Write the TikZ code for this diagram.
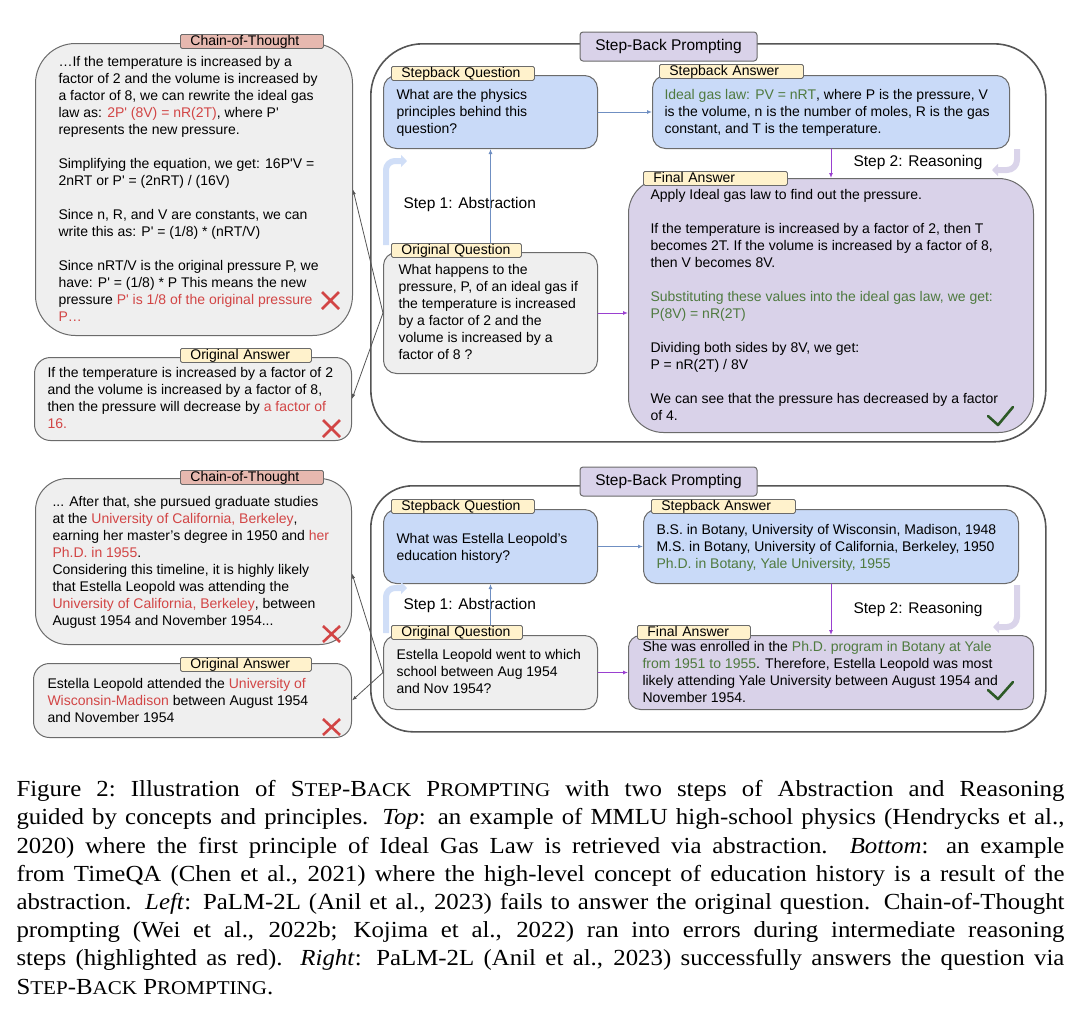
\documentclass[tikz,border=0pt]{standalone}
\usepackage{fontspec}
\setmainfont{Liberation Sans}
\newfontfamily\capfont[FakeStretch=1.08]{Liberation Serif}
\usetikzlibrary{arrows.meta,calc}
\definecolor{boxline}{HTML}{6B6B6B}
\definecolor{panelline}{HTML}{555555}
\definecolor{boxgray}{HTML}{EFEFEF}
\definecolor{boxblue}{HTML}{C9DAF8}
\definecolor{lav}{HTML}{D9D2E9}
\definecolor{tagyellow}{HTML}{FFF2CC}
\definecolor{tagpink}{HTML}{E6B8AF}
\definecolor{errred}{HTML}{D24545}
\definecolor{okgreen}{HTML}{4F7A3F}
\definecolor{checkgreen}{HTML}{2D5A27}
\definecolor{bluearrow}{HTML}{6F8FC2}
\definecolor{purplearrow}{HTML}{9A40D0}
\definecolor{conngray}{HTML}{555555}
\definecolor{hookblue}{HTML}{D0DEF7}
\definecolor{hooklav}{HTML}{DAD4EA}
\newcommand\boxfont{\fontsize{14}{17}\selectfont}
\newcommand\stepfont{\fontsize{15.5}{18}\selectfont}
\newcommand\q{\textquotesingle}
\newcommand\rd[1]{\textcolor{errred}{#1}}
\newcommand\gr[1]{\textcolor{okgreen}{#1}}
\newcommand\scfont{\fontsize{19.5}{28.2}\selectfont}
\newcommand\sbp{S{\scfont TEP}-B{\scfont ACK} P{\scfont ROMPTING}}
\newcommand\capline[1]{\hbox to 1048pt{#1}}
\begin{document}
\begin{tikzpicture}[x=1pt,y=-1pt,line width=1pt,line cap=round,line join=round,
  box/.style={draw=boxline,anchor=north west,inner sep=0pt},
  panel/.style={draw=panelline,line width=1.6pt,anchor=north west,inner sep=0pt},
  tag/.style={draw=boxline,line width=0.8pt,rounded corners=1.5pt,anchor=north west,font=\boxfont,
    inner xsep=10pt,inner ysep=0pt,minimum height=14pt,text height=10.5pt,text depth=3pt,align=left},
  sbptag/.style={draw=boxline,fill=lav,rounded corners=3pt,minimum width=177pt,minimum height=29pt,
    font=\stepfont,inner sep=0pt},
  txt/.style={font=\boxfont,align=left,anchor=north west,inner sep=0pt},
  steplabel/.style={font=\stepfont,anchor=west,inner sep=0pt},
  bluelink/.style={draw=bluearrow,-{Latex[length=5pt,width=4pt]}},
  purplelink/.style={draw=purplearrow,-{Latex[length=5pt,width=4pt]}},
  graylink/.style={draw=conngray,line width=0.8pt,-{Latex[length=5pt,width=3.5pt]}},
  hook/.style={line width=6pt,line cap=butt,-{Triangle[length=6pt,width=12pt]}},
  xmark/.style={draw=errred,line width=2.6pt,line cap=butt},
  checkmark/.style={draw=checkgreen,line width=2.6pt}]
\useasboundingbox (0,0) rectangle (1080,1018);

% top example
\node[panel,rounded corners=52pt,minimum width=675pt,minimum height=398pt] (panel1) at (370,43) {};
\node[sbptag] (sbp1) at (668.5,46.5) {Step-Back Prompting};
\node[box,fill=boxgray,rounded corners=40pt,minimum width=317pt,minimum height=292pt] (cot1) at (35,43) {};
\node[box,fill=boxgray,rounded corners=16pt,minimum width=317pt,minimum height=83pt] (oa1) at (34,357) {};
\node[box,fill=boxblue,rounded corners=13pt,minimum width=214pt,minimum height=73pt] (sq1) at (383,75) {};
\node[box,fill=boxblue,rounded corners=13pt,minimum width=357pt,minimum height=73pt] (sa1) at (652,75) {};
\node[box,fill=boxgray,rounded corners=13pt,minimum width=214pt,minimum height=121pt] (oq1) at (383,252) {};
\node[box,fill=lav,rounded corners=35pt,minimum width=405pt,minimum height=254pt] (fa1) at (628,178) {};

\node[tag,fill=tagpink,text width=123pt] (cott1) at (180,34) {Chain-of-Thought};
\node[tag,fill=tagyellow,text width=111pt] (oat1) at (180,348) {Original Answer};
\node[tag,fill=tagyellow,text width=123pt] (sqt1) at (391,66) {Stepback Question};
\node[tag,fill=tagyellow,text width=124pt] (sat1) at (659,64) {Stepback Answer};
\node[tag,fill=tagyellow,text width=110pt] (oqt1) at (391,243) {Original Question};
\node[tag,fill=tagyellow,text width=124pt] (fat1) at (643,171) {Final Answer};

\node[txt] (cottxt1) at (58,56) {…If the temperature is increased by a\\
factor of 2 and the volume is increased by\\
a factor of 8, we can rewrite the ideal gas\\
law as: \rd{2P\q{} (8V) = nR(2T)}, where P\q\\
represents the new pressure.\\[17pt]
Simplifying the equation, we get: 16P\q V =\\
2nRT or P\q{} = (2nRT) / (16V)\\[17pt]
Since n, R, and V are constants, we can\\
write this as: P\q{} = (1/8) * (nRT/V)\\[17pt]
Since nRT/V is the original pressure P, we\\
have: P\q{} = (1/8) * P This means the new\\
pressure \rd{P\q{} is 1/8 of the original pressure}\\
\rd{P…}};
\node[txt] (oatxt1) at (47,367) {If the temperature is increased by a factor of 2\\
and the volume is increased by a factor of 8,\\
then the pressure will decrease by \rd{a factor of}\\
\rd{16.}};
\node[txt] (sqtxt1) at (396,89) {What are the physics\\principles behind this\\question?};
\node[txt] (satxt1) at (664,89) {\gr{Ideal gas law: PV = nRT}, where P is the pressure, V\\
is the volume, n is the number of moles, R is the gas\\
constant, and T is the temperature.};
\node[txt] (oqtxt1) at (398,264) {What happens to the\\pressure, P, of an ideal gas if\\the temperature is increased\\
by a factor of 2 and the\\volume is increased by a\\factor of 8 ?};
\node[txt] (fatxt1) at (650,189) {Apply Ideal gas law to find out the pressure.\\[17pt]
If the temperature is increased by a factor of 2, then T\\
becomes 2T. If the volume is increased by a factor of 8,\\
then V becomes 8V.\\[17pt]
\gr{Substituting these values into the ideal gas law, we get:}\\
\gr{P(8V) = nR(2T)}\\[17pt]
Dividing both sides by 8V, we get:\\
P = nR(2T) / 8V\\[17pt]
We can see that the pressure has decreased by a factor\\
of 4.};

\node[steplabel] (step1a) at (403,204) {Step 1: Abstraction};
\node[steplabel] (step2a) at (853,162) {Step 2: Reasoning};

\draw[hook,draw=hookblue] (386,245) -- (386,170) to[out=90,in=180] (395,161) -- (407,161);
\draw[hook,draw=hooklav] (1017,149) -- (1017,160) to[out=-90,in=0] (1007,170) -- (992,170);
\draw[bluelink] (sq1.south |- oqt1.north) -- (sq1.south);
\draw[bluelink] (sq1.east) -- (sa1.west);
\draw[purplelink] (sa1.south) -- (sa1.south |- fa1.north);
\draw[purplelink] (oq1.east) -- (oq1.east -| fa1.west);
\draw[graylink] (oq1.west) -- (cot1.east);
\draw[graylink] (oq1.west) -- (oa1.east);

\draw[xmark] (322,292) -- (339,309) (339,292) -- (322,309);
\draw[xmark] (323,420) -- (340,437) (340,420) -- (323,437);
\draw[checkmark] (988,416) -- (998,425) -- (1013,407);

% bottom example
\node[panel,rounded corners=42pt,minimum width=675pt,minimum height=246pt] (panel2) at (370,485) {};
\node[sbptag] (sbp2) at (668.5,481.5) {Step-Back Prompting};
\node[box,fill=boxgray,rounded corners=32pt,minimum width=316pt,minimum height=166pt] (cot2) at (35,478) {};
\node[box,fill=boxgray,rounded corners=16pt,minimum width=318pt,minimum height=74pt] (oa2) at (33,663) {};
\node[box,fill=boxblue,rounded corners=13pt,minimum width=214pt,minimum height=74pt] (sq2) at (383,509) {};
\node[box,fill=boxblue,rounded corners=13pt,minimum width=375pt,minimum height=74pt] (sa2) at (643,509) {};
\node[box,fill=boxgray,rounded corners=13pt,minimum width=214pt,minimum height=74pt] (oq2) at (383,635) {};
\node[box,fill=lav,rounded corners=12pt,minimum width=405pt,minimum height=74pt] (fa2) at (628,635) {};

\node[tag,fill=tagpink,text width=123pt] (cott2) at (180,470) {Chain-of-Thought};
\node[tag,fill=tagyellow,text width=111pt] (oat2) at (180,657) {Original Answer};
\node[tag,fill=tagyellow,text width=123pt] (sqt2) at (391,499) {Stepback Question};
\node[tag,fill=tagyellow,text width=124pt] (sat2) at (651,499) {Stepback Answer};
\node[tag,fill=tagyellow,text width=111pt] (oqt2) at (391,625) {Original Question};
\node[tag,fill=tagyellow,text width=93pt] (fat2) at (637,625) {Final Answer};

\node[txt] (cottxt2) at (52,496) {... After that, she pursued graduate studies\\
at the \rd{University of California, Berkeley},\\
earning her master's degree in 1950 and \rd{her}\\
\rd{Ph.D. in 1955}.\\
Considering this timeline, it is highly likely\\
that Estella Leopold was attending the\\
\rd{University of California, Berkeley}, between\\
August 1954 and November 1954...};
\node[txt] (oatxt2) at (47,678) {Estella Leopold attended the \rd{University of}\\
\rd{Wisconsin-Madison} between August 1954\\
and November 1954};
\node[txt] (sqtxt2) at (396,533) {What was Estella Leopold's\\education history?};
\node[txt] (satxt2) at (656,524) {B.S. in Botany, University of Wisconsin, Madison, 1948\\
M.S. in Botany, University of California, Berkeley, 1950\\
\gr{Ph.D. in Botany, Yale University, 1955}};
\node[txt] (oqtxt2) at (396,649) {Estella Leopold went to which\\school between Aug 1954\\and Nov 1954?};
\node[txt] (fatxt2) at (642,641) {She was enrolled in the \gr{Ph.D. program in Botany at Yale}\\
\gr{from 1951 to 1955}. Therefore, Estella Leopold was most\\
likely attending Yale University between August 1954 and\\
November 1954.};

\node[steplabel] (step1b) at (403,605) {Step 1: Abstraction};
\node[steplabel] (step2b) at (853,609) {Step 2: Reasoning};

\draw[hook,draw=hookblue] (386,633) -- (386,597) to[out=90,in=180] (395,588) -- (407,588);
\draw[hook,draw=hooklav] (1017,585) -- (1017,617) to[out=-90,in=0] (1007,627) -- (993,627);
\draw[bluelink] (sq2.south |- oqt2.north) -- (sq2.south);
\draw[bluelink] (sq2.east) -- (sa2.west);
\draw[purplelink] (sa2.south) -- (sa2.south |- fa2.north);
\draw[purplelink] (oq2.east) -- (oq2.east -| fa2.west);
\draw[graylink] (oq2.west) -- ($(cot2.east)+(0,12)$);
\draw[graylink] (oq2.west) -- (oa2.east);

\draw[xmark] (323,626) -- (340,642) (340,626) -- (323,642);
\draw[xmark] (323,719) -- (340,735) (340,719) -- (323,735);
\draw[checkmark] (988,690) -- (998,699) -- (1013,682);

% caption
\node[font=\capfont\fontsize{23}{28.2}\selectfont,align=left,anchor=north west,inner sep=0pt] (caption) at (16,780)
{\frenchspacing
\capline{Figure 2: Illustration of \sbp{} with two steps of Abstraction and Reasoning}\\
\capline{guided by concepts and principles. \textit{Top}: an example of MMLU high-school physics (Hendrycks et al.,}\\
\capline{2020) where the first principle of Ideal Gas Law is retrieved via abstraction. \textit{Bottom}: an example}\\
\capline{from TimeQA (Chen et al., 2021) where the high-level concept of education history is a result of the}\\
\capline{abstraction. \textit{Left}: PaLM-2L (Anil et al., 2023) fails to answer the original question. Chain-of-Thought}\\
\capline{prompting (Wei et al., 2022b; Kojima et al., 2022) ran into errors during intermediate reasoning}\\
\capline{steps (highlighted as red). \textit{Right}: PaLM-2L (Anil et al., 2023) successfully answers the question via}\\
\sbp.};
\end{tikzpicture}
\end{document}
